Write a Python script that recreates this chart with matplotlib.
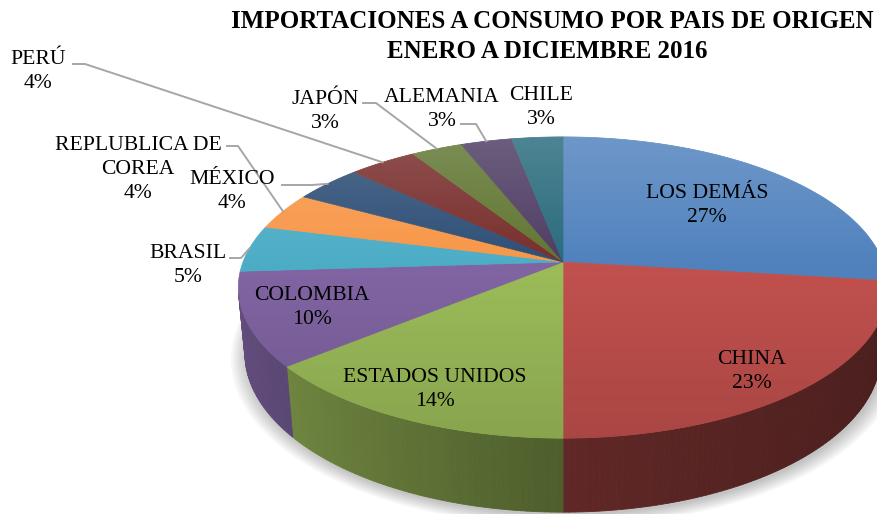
import numpy as np
import matplotlib.pyplot as plt
from matplotlib.patches import Polygon
from matplotlib.colors import to_rgb

# data: share of imports by country of origin, Jan-Dec 2016 (%)
countries = ["LOS DEMÁS", "CHINA", "ESTADOS UNIDOS", "COLOMBIA", "BRASIL",
             "REPLUBLICA DE\nCOREA", "MÉXICO", "PERÚ", "JAPÓN", "ALEMANIA", "CHILE"]
shares = [27, 23, 14, 10, 5, 4, 4, 4, 3, 3, 3]
colors = ["#4F81BD", "#C0504D", "#9BBB59", "#8064A2", "#4BACC6", "#F79646",
          "#2C4D75", "#772C2A", "#5F7530", "#4D3B62", "#276A7C"]

# layout of the labels (pixel coords, centre of text block)
label_xy = [(707, 206), (752, 372), (435, 389), (312, 307), (188, 266),
            (138, 170), (232, 192), (38, 71), (325, 111), (442, 110), (541, 107)]
# leader start + elbow for outside labels (None = no leader)
leaders = [None, None, None, None,
           [(230, 258), (241, 258)],
           [(227, 146), (238, 146)],
           [(282, 185), (312, 185)],
           [(73, 64), (85, 64)],
           [(363, 103), (376, 103)],
           [(461, 124), (476, 124)],
           None]
LINE_STEP = 24  # px between label lines

W, HGT = 878, 514

# camera for the 3d look
ALPHA = np.radians(27.2)
DIST = 5.25
FOCAL = 1680
CX, CY = 563, 262
THICK = 0.234


def project(X, Y, Z):
    depth = DIST + Y * np.cos(ALPHA) - Z * np.sin(ALPHA)
    up = Y * np.sin(ALPHA) + Z * np.cos(ALPHA)
    return CX + FOCAL * X / depth, CY - FOCAL * up / depth


def rim(phi, z, r=1.0):
    return project(r * np.sin(phi), r * np.cos(phi), z)


fig = plt.figure(figsize=(W / 100, HGT / 100), dpi=100)
ax = fig.add_axes([0, 0, 1, 1])

fractions = np.array(shares) / sum(shares)
edges = np.concatenate([[0], np.cumsum(fractions)]) * 2 * np.pi

# soft shadow under the pie
phi_all = np.linspace(0, 2 * np.pi, 400)
for k in range(8):
    sx, sy = rim(phi_all, -THICK, 1.0 + 0.007 * k)
    ax.fill(sx + 2, sy + 3, color="black", alpha=0.03, lw=0, zorder=0)

# outer walls, only the part facing the camera
vis_lim = -1 / (DIST * np.cos(ALPHA)) + 0.01
for i, col in enumerate(colors):
    base = np.array(to_rgb(col))
    phis = np.linspace(edges[i], edges[i + 1], max(3, int(fractions[i] * 400)))
    for p0, p1 in zip(phis[:-1], phis[1:]):
        pm = 0.5 * (p0 + p1)
        if np.cos(pm) > vis_lim:
            continue
        xm = np.sin(pm)
        shade = 0.5 - 0.27 * xm if xm < 0 else 0.5 - 0.12 * xm
        x0t, y0t = rim(p0, 0)
        x1t, y1t = rim(p1, 0)
        x0b, y0b = rim(p0, -THICK)
        x1b, y1b = rim(p1, -THICK)
        c = np.clip(base * shade, 0, 1)
        ax.add_patch(Polygon([(x0t, y0t), (x1t, y1t), (x1b, y1b), (x0b, y0b)],
                             closed=True, fc=c, ec=c, lw=0.6, zorder=1))

# top faces
for i, col in enumerate(colors):
    phis = np.linspace(edges[i], edges[i + 1], max(4, int(fractions[i] * 400)))
    xs, ys = rim(phis, 0)
    pts = [(CX, CY)] + list(zip(xs, ys))
    ax.add_patch(Polygon(pts, closed=True, fc=col, ec=col, lw=0.5, zorder=2))

# light gradient over the top
tx, ty = rim(phi_all, 0)
top_y, bot_y = ty.min(), ty.max()
g = np.linspace(0, 1, 256)[:, None]
grad = np.zeros((256, 2, 4))
grad[..., :3] = np.where(g < 0.45, 1.0, 0.0)[..., None]
grad[..., 3] = np.where(g < 0.45, 0.18 * (1 - g / 0.45), 0.12 * (g - 0.45) / 0.55)
im = ax.imshow(grad, extent=(0, W, bot_y, top_y), aspect="auto", zorder=3,
               interpolation="bilinear")
clip = Polygon(list(zip(tx, ty)), closed=True, transform=ax.transData)
im.set_clip_path(clip)

# labels and leader lines
for i, name in enumerate(countries):
    lx, ly = label_xy[i]
    lines = name.split("\n") + [f"{shares[i]}%"]
    n = len(lines)
    for k, txt in enumerate(lines):
        ax.text(lx, ly + (k - (n - 1) / 2) * LINE_STEP, txt, ha="center",
                va="center", fontsize=15.6, family="Liberation Serif", zorder=5)
    if leaders[i] is not None:
        pm = 0.5 * (edges[i] + edges[i + 1])
        axx, ayy = rim(pm, 0)
        (sx, sy), (ex, ey) = leaders[i]
        ax.plot([sx, ex, axx], [sy, ey, ayy], color="#A6A6A6", lw=1.4, zorder=4)

ax.text(552, 22, "IMPORTACIONES A CONSUMO POR PAIS DE ORIGEN", ha="center",
        va="center", fontsize=18, fontweight="bold", family="Liberation Serif")
ax.text(547, 51, "ENERO A DICIEMBRE 2016", ha="center", va="center",
        fontsize=18, fontweight="bold", family="Liberation Serif")

ax.set_xlim(0, W)
ax.set_ylim(HGT, 0)
ax.axis("off")

fig.savefig("out.png", dpi=100)
